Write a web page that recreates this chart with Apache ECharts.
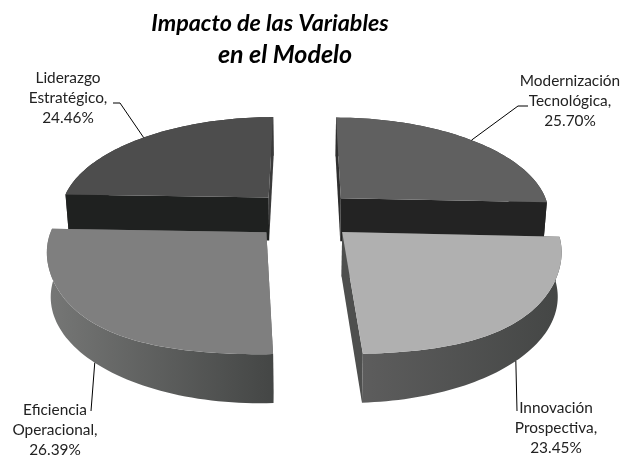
<!DOCTYPE html>
<html>
<head>
<meta charset="utf-8">
<title>Impacto de las Variables en el Modelo</title>
<script src="https://cdn.jsdelivr.net/npm/echarts@6/dist/echarts.min.js"></script>
<style>
html,body{margin:0;padding:0;background:#fff;}
#main{width:622px;height:458px;}
</style>
</head>
<body>
<div id="main"></div>
<script>
// datos del grafico (en orden horario desde las 12)
var categories = ['Modernización\nTecnológica', 'Innovación\nProspectiva', 'Eficiencia\nOperacional', 'Liderazgo\nEstratégico'];
var shares = [25.70, 23.45, 26.39, 24.46];

// colores de cada porcion
var top_colors = ['#606060', '#b0b0b0', '#7f7f7f', '#4d4d4d'];
var start_cut_colors = ['#2e2e2e', '#4e4f4e', '#6a6a6a', '#1f2120'];
var end_cut_colors = ['#232323', '#4e4f4e', '#6a6a6a', '#3a3a3a'];
var wall_left = ['#3a3a3a', '#5d5d5d', '#767776', '#333333'];
var wall_right = ['#2a2a2a', '#444645', '#444645', '#2a2a2a'];

// posicion de etiquetas: centro del texto y codo de la linea guia
var label_centers = [[570, 101], [556, 428], [55, 430], [68, 98]];
var label_elbows = [[[518, 106], [528, 106]], [[517, 411]], [[91, 411]], [[120, 103], [113, 103]]];

// camara de la torta 3D
var CX = 304, CY = 214.5, RX = 210, RY = 97.4;
var PERSP = 0.152, EXPLODE = 0.176 / Math.SQRT1_2;
var FRONT_BULGE = 7, BASE_SHRINK = 0.985;

// angulo en grados (horario desde las 12), devuelve punto en pantalla
function project(deg, r, mid, drop) {
    var a = deg * Math.PI / 180, m = mid * Math.PI / 180;
    var X = r * Math.sin(a) + EXPLODE * Math.sin(m);
    var V = -r * Math.cos(a) - EXPLODE * Math.cos(m);
    var w = 1 - PERSP * V;
    var sx = RX * X / w, sy = RY * V / w;
    if (drop) {
        // la base queda un poco mas chica que la cara superior
        sx *= BASE_SHRINK;
        sy += 43.8 + 4.46 * V;
    } else if (r > 0 && Math.cos(a) < 0) {
        // el arco frontal superior va algo mas abombado en el original
        sy += FRONT_BULGE * Math.pow(Math.sin(2 * a), 2);
    }
    return {x: CX + sx, y: CY + sy, v: V};
}
function xy(p) { return [p.x, p.y]; }

var total = shares.reduce(function (s, v) { return s + v; }, 0);

function renderItem(params, api) {
    var i = params.dataIndex, before = 0;
    for (var k = 0; k < i; k++) before += shares[k];
    var a0 = before / total * 360, a1 = (before + shares[i]) / total * 360;
    var mid = (a0 + a1) / 2;
    var n = 60, arc_top = [], arc_low = [], sum_v = 0;
    for (var j = 0; j <= n; j++) {
        var d = a0 + (a1 - a0) * j / n;
        var t = project(d, 1, mid, false);
        arc_top.push(xy(t));
        arc_low.push(xy(project(d, 1, mid, true)));
        sum_v += t.v;
    }
    var apex = project(0, 0, mid, false), apex_low = project(0, 0, mid, true);
    var base = Math.round(apex.v * 100) + 100;
    var p0 = project(a0, 1, mid, false), p1 = project(a1, 1, mid, false);

    var faces = [
        {v: (apex.v + p0.v) / 2, color: start_cut_colors[i],
            points: [xy(apex), xy(p0), xy(project(a0, 1, mid, true)), xy(apex_low)]},
        {v: (apex.v + p1.v) / 2, color: end_cut_colors[i],
            points: [xy(apex), xy(p1), xy(project(a1, 1, mid, true)), xy(apex_low)]},
        {v: sum_v / (n + 1), color: {
            type: 'linear', x: 0, y: 0, x2: 1, y2: 0,
            colorStops: [{offset: 0, color: wall_left[i]}, {offset: 1, color: wall_right[i]}]
        }, points: arc_top.concat(arc_low.slice().reverse())}
    ];
    faces.sort(function (a, b) { return a.v - b.v; });

    var children = faces.map(function (f, idx) {
        return {
            type: 'polygon', z2: base + idx,
            shape: {points: f.points},
            style: {fill: f.color}
        };
    });
    children.push({
        type: 'polygon', z2: base + 5,
        shape: {points: [xy(apex)].concat(arc_top)},
        style: {fill: top_colors[i]}
    });

    // linea guia: sale del punto medio del arco
    var front = Math.cos(mid * Math.PI / 180) < 0;
    var start = project(mid, 1, mid, front);
    children.push({
        type: 'polyline', z2: 1000,
        shape: {points: [xy(start)].concat(label_elbows[i])},
        style: {stroke: '#000', lineWidth: 1, fill: null}
    });
    children.push({
        type: 'text', z2: 1001,
        x: label_centers[i][0], y: label_centers[i][1],
        style: {
            text: categories[i] + ',\n' + api.value(0).toFixed(2) + '%',
            fill: '#222', font: '15.4px Lato', lineHeight: 20,
            align: 'center', verticalAlign: 'middle'
        }
    });
    return {type: 'group', children: children};
}

var option = {
    backgroundColor: '#fff',
    animation: false,
    title: [
        {text: 'Impacto de las Variables', left: 265, top: 7, textAlign: 'center',
            textStyle: {fontFamily: 'Lato', fontSize: 23.3, fontWeight: 'bold', fontStyle: 'italic', color: '#000'}},
        {text: 'en el Modelo', left: 280, top: 37, textAlign: 'center',
            textStyle: {fontFamily: 'Lato', fontSize: 25, fontWeight: 'bold', fontStyle: 'italic', color: '#000'}}
    ],
    series: [{
        type: 'custom',
        coordinateSystem: 'none',
        silent: true,
        renderItem: renderItem,
        data: shares.map(function (v) { return [v]; })
    }]
};
var chart = echarts.init(document.getElementById('main'));
chart.setOption(option);
</script>
</body>
</html>
